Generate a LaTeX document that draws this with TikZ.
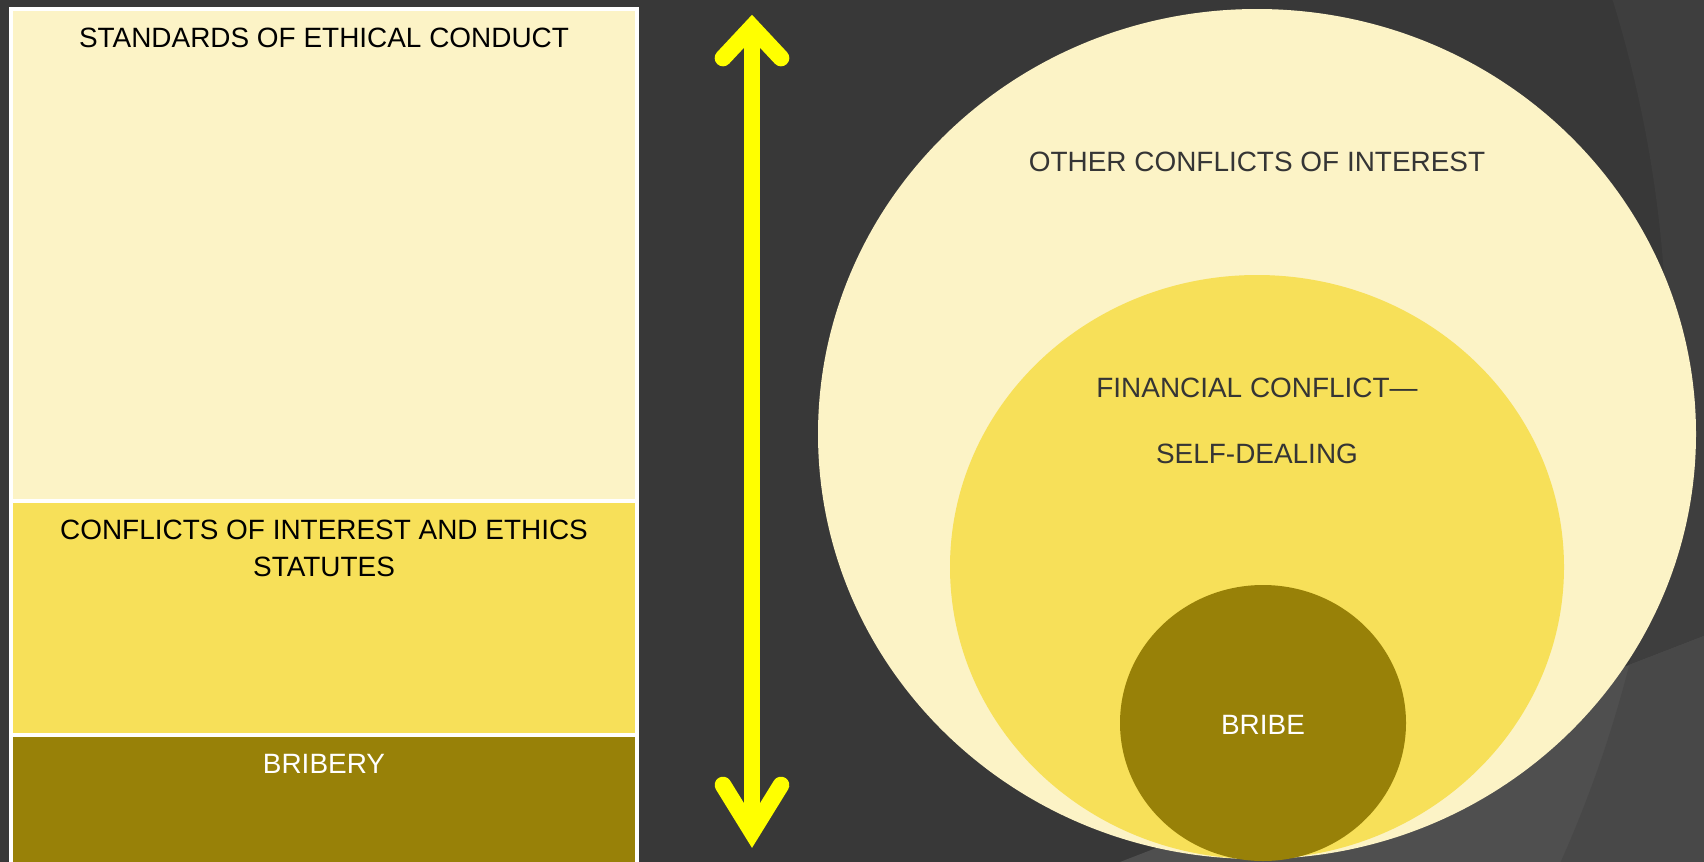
\documentclass[tikz,border=0pt]{standalone}
\usepackage{fontspec}
\setmainfont{Liberation Sans}
\definecolor{slate}{HTML}{383838}
\definecolor{slateband}{HTML}{3E3E3E}
\definecolor{slatelow}{HTML}{4F4F4F}
\definecolor{slatelowband}{HTML}{484848}
\definecolor{cream}{HTML}{FCF3C6}
\definecolor{gold}{HTML}{F7E059}
\definecolor{olive}{HTML}{988108}
\definecolor{inkgray}{HTML}{353535}
\definecolor{arrowyellow}{HTML}{FFFF00}
\tikzset{
  caption/.style={font=\fontsize{15.9}{21}\selectfont, inner sep=0pt, align=center},
  wide caption/.style={caption, font=\fontsize{15.9}{37.4}\selectfont},
  shaft/.style={draw=arrowyellow, line width=9.5pt},
  barb/.style={draw=arrowyellow, line width=9.5pt, line cap=round, line join=miter}
}
\begin{document}
\begin{tikzpicture}[x=0.02cm, y=-0.02cm]
      \useasboundingbox (0,0) rectangle (1704,862);
      % background
      \fill[slate] (0,0) rectangle (1704,862);
      \begin{scope}
        \clip (0,0) rectangle (1704,862);
        \fill[slateband, even odd rule] (0,0) rectangle (1704,862) (442,362) circle (1225);
        \clip (1120,862) -- (1704,636) -- (1704,862) -- cycle;
        \fill[slatelow] (1120,862) -- (1704,636) -- (1704,862) -- cycle;
        \fill[slatelowband, even odd rule] (0,0) rectangle (1704,862) (442,362) circle (1225);
      \end{scope}
      % left panel
      \fill[white] (9,7) rectangle (639,870);
      \fill[cream] (13,11) rectangle (635,499);
      \fill[gold] (13,503) rectangle (635,733);
      \fill[olive] (13,737) rectangle (635,870);
      \draw
        (324,38) node[caption] (standards){STANDARDS OF ETHICAL CONDUCT}
        (324,548) node[caption] (statutes){CONFLICTS OF INTEREST AND ETHICS\\STATUTES}
        (324,764) node[caption, white] (bribery){BRIBERY};
      % arrow
      \coordinate (up) at (752,27);
      \coordinate (down) at (752,832);
      \coordinate (upleft) at (723,58);
      \coordinate (upright) at (781,58);
      \coordinate (downleft) at (723,785);
      \coordinate (downright) at (781,785);
      \draw[shaft] (up) to (down);
      \draw[barb] (upleft) -- (up) -- (upright);
      \draw[barb] (downleft) -- (down) -- (downright);
      % nested circles
      \fill[cream] (1257,434) ellipse [x radius=439, y radius=425];
      \fill[gold] (1257,567) ellipse [x radius=307, y radius=292];
      \fill[olive] (1263,723) ellipse [x radius=143, y radius=138];
      \draw
        (1257,162) node[caption, inkgray] (other){OTHER CONFLICTS OF INTEREST}
        (1257,421) node[wide caption, inkgray] (financial){FINANCIAL CONFLICT—\\SELF-DEALING}
        (1263,725) node[caption, white] (bribe){BRIBE};
    \end{tikzpicture}
\end{document}
